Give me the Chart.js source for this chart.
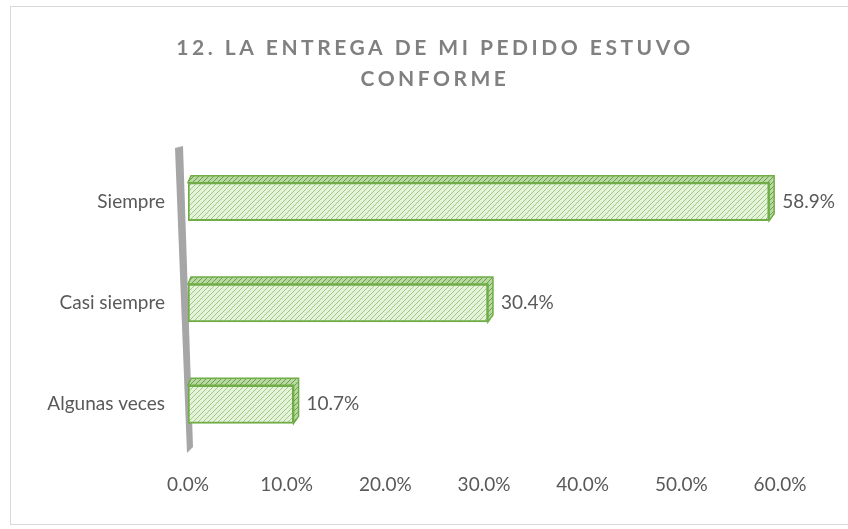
<!DOCTYPE html>
<html>
<head>
<meta charset="utf-8">
<script src="https://cdn.jsdelivr.net/npm/chart.js@4.4.1/dist/chart.umd.min.js"></script>
<style>
  html, body { margin: 0; padding: 0; background: #ffffff; }
  #wrap { position: relative; width: 848px; height: 529px; overflow: hidden; }
  #frame { position: absolute; left: 10px; top: 6px; width: 850px; height: 519px; border: 1px solid #d9d9d9; box-sizing: border-box; }
  canvas { position: absolute; left: 0; top: 0; }
</style>
</head>
<body>
<div id="wrap">
  <div id="frame"></div>
  <canvas id="c" width="848" height="529"></canvas>
</div>
<script>
const titleLines = ['12. LA ENTREGA DE MI PEDIDO ESTUVO', 'CONFORME'];
const categories = ['Siempre', 'Casi siempre', 'Algunas veces'];
const values = [58.9, 30.4, 10.7];
const xTicks = [0, 10, 20, 30, 40, 50, 60];

const FONT = 'Lato, "Open Sans", sans-serif';
const TEXT = '#595959';
const GREEN = '#70ad47';

function makePattern(bg, line) {
  const p = document.createElement('canvas');
  p.width = 5; p.height = 5;
  const g = p.getContext('2d');
  g.fillStyle = bg; g.fillRect(0, 0, 5, 5);
  g.strokeStyle = line; g.lineWidth = 1;
  g.beginPath();
  g.moveTo(-1, 6); g.lineTo(6, -1);
  g.moveTo(-1, 1); g.lineTo(1, -1);
  g.moveTo(4, 6); g.lineTo(6, 4);
  g.stroke();
  return g.createPattern(p, 'repeat');
}
const ctx0 = document.getElementById('c').getContext('2d');
const frontPattern = makePattern('#e6f2dc', '#9ccc7e');
const topPattern = makePattern('#b9d9a3', '#6a9e48');

const titlePlugin = {
  id: 'spacedTitle',
  afterDraw(chart) {
    const c = chart.ctx;
    c.save();
    c.font = 'bold 21px ' + FONT;
    c.fillStyle = '#808080';
    c.textAlign = 'center';
    c.textBaseline = 'middle';
    if ('letterSpacing' in c) c.letterSpacing = '3.5px';
    titleLines.forEach((t, i) => c.fillText(t, 435, 48 + i * 31));
    c.restore();
  }
};

const wallPlugin = {
  id: 'wall3d',
  beforeDatasetsDraw(chart) {
    const c = chart.ctx;
    const xs = chart.scales.x;
    const a = chart.chartArea;
    const x0 = xs.getPixelForValue(0);
    c.save();
    c.fillStyle = '#a6a6a6';
    c.beginPath();
    c.moveTo(x0 - 13, a.top - 3);
    c.lineTo(x0 - 5, a.top - 5);
    c.lineTo(x0 + 5, a.bottom - 8);
    c.lineTo(x0 - 1, a.bottom - 2);
    c.closePath();
    c.fill();
    // top and side faces of bars
    const meta = chart.getDatasetMeta(0);
    meta.data.forEach(bar => {
      const p = bar.getProps(['x', 'y', 'base', 'height'], true);
      const top = p.y - p.height / 2;
      const bot = p.y + p.height / 2;
      c.fillStyle = topPattern;
      c.strokeStyle = GREEN;
      c.lineWidth = 1.5;
      c.beginPath();
      c.moveTo(p.base, top);
      c.lineTo(p.base + 3, top - 7);
      c.lineTo(p.x + 5, top - 7);
      c.lineTo(p.x + 5, bot - 7);
      c.lineTo(p.x, bot);
      c.lineTo(p.x, top);
      c.closePath();
      c.fill();
      c.stroke();
    });
    c.restore();
  }
};

const labelPlugin = {
  id: 'valueLabels',
  afterDatasetsDraw(chart) {
    const c = chart.ctx;
    const meta = chart.getDatasetMeta(0);
    c.save();
    c.font = '19px ' + FONT;
    c.fillStyle = TEXT;
    c.textAlign = 'left';
    c.textBaseline = 'middle';
    meta.data.forEach((bar, i) => {
      c.fillText(values[i].toFixed(1) + '%', bar.x + 13, bar.y);
    });
    c.restore();
  }
};

new Chart(document.getElementById('c'), {
  type: 'bar',
  data: {
    labels: categories,
    datasets: [{
      data: values,
      backgroundColor: frontPattern,
      borderColor: GREEN,
      borderWidth: 2,
      borderSkipped: false,
      barThickness: 38
    }]
  },
  options: {
    indexAxis: 'y',
    responsive: false,
    animation: false,
    events: [],
    layout: { padding: { top: 151, left: 10, right: 68, bottom: 0 } },
    plugins: {
      legend: { display: false },
      title: { display: false },
      tooltip: { enabled: false }
    },
    scales: {
      x: {
        min: 0, max: 60,
        afterBuildTicks(s) { s.ticks = xTicks.map(v => ({ value: v })); },
        afterFit(s) { s.height = 74; },
        grid: { display: false, drawTicks: false },
        border: { display: false },
        ticks: {
          padding: 18,
          color: TEXT,
          font: { family: FONT, size: 19 },
          callback: v => Number(v).toFixed(1) + '%'
        }
      },
      y: {
        afterFit(s) { s.width = 178; },
        grid: { display: false, drawTicks: false },
        border: { display: false },
        ticks: {
          padding: 23,
          color: TEXT,
          font: { family: FONT, size: 19 }
        }
      }
    }
  },
  plugins: [wallPlugin, labelPlugin, titlePlugin]
});
</script>
</body>
</html>
